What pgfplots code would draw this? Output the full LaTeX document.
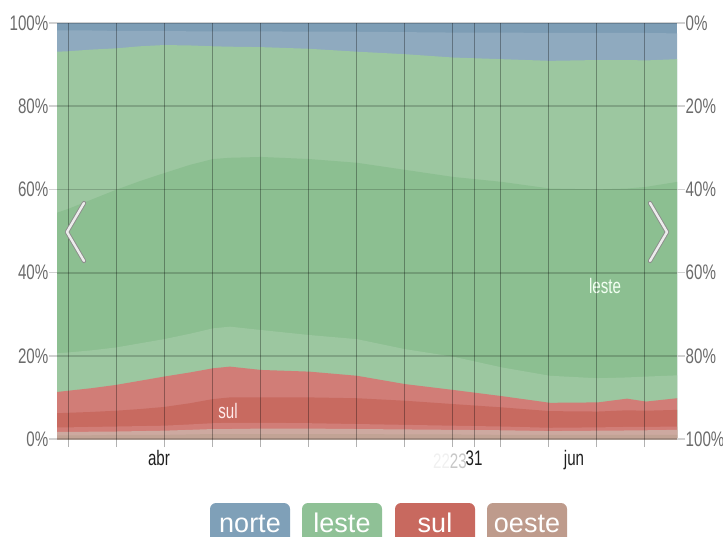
\documentclass[border=0pt]{standalone}
\usepackage{fontspec}
\setmainfont{Liberation Sans}[FakeStretch=0.72]
\newfontfamily\legfont{Liberation Sans}
\usepackage{pgfplots}
\pgfplotsset{compat=1.18}
\usepackage{pgfplotstable}

\definecolor{norteDark}{HTML}{7D9DB5}
\definecolor{norteLight}{HTML}{8FAABF}
\definecolor{lesteLight}{HTML}{9CC7A0}
\definecolor{lesteDark}{HTML}{8CBF91}
\definecolor{sulLight}{HTML}{D17D77}
\definecolor{sulDark}{HTML}{C86A60}
\definecolor{oesteLight}{HTML}{CDA9A0}
\definecolor{oesteDark}{HTML}{C2A395}
\definecolor{norteC}{HTML}{7FA0B8}
\definecolor{lesteC}{HTML}{8FC196}
\definecolor{sulC}{HTML}{C8695F}
\definecolor{oesteC}{HTML}{BE9B8C}

% cumulative band boundaries (percent)
\pgfplotstableread{
x   b1   b2    b3   b4    b5    b6    b7    b8    b9
57  0.9  1.7   2.8  6.2   11.3  20.6  54.4  93.1  98.2
68  0.9  1.7   2.8  6.3   11.6  20.8  55.3  93.2  98.2
91  0.9  1.75  2.9  6.5   12.2  21.3  57.5  93.6  98.2
116 1.0  1.8   3.0  6.8   13.0  22.0  59.9  93.9  98.1
140 1.0  1.9   3.1  7.2   14.0  23.0  62.0  94.4  98.1
164 1.0  2.0   3.2  7.7   15.0  24.0  63.9  94.7  98.1
190 1.1  2.2   3.5  8.6   16.0  25.3  65.9  94.6  98.0
213 1.2  2.4   3.8  9.6   17.0  26.6  67.3  94.4  98.0
230 1.2  2.4   3.9  10.0  17.4  27.0  67.6  94.3  98.0
261 1.2  2.5   3.9  10.0  16.6  26.2  67.8  94.2  98.0
309 1.2  2.5   3.8  10.0  16.2  25.0  67.3  93.8  97.9
357 1.2  2.4   3.6  9.8   15.2  24.0  66.4  93.1  97.9
405 1.1  2.3   3.4  9.2   13.2  21.6  64.7  92.5  97.8
453 1.1  2.2   3.2  8.4   11.8  19.8  63.0  91.7  97.7
502 1.0  2.1   3.0  7.6   10.3  17.2  61.8  91.3  97.7
550 1.0  1.9   2.7  6.7   8.7   15.2  60.2  90.9  97.6
598 1.0  2.0   2.8  6.6   8.8   14.6  60.0  91.1  97.6
627 1.0  2.05  2.9  6.9   9.7   14.8  60.2  91.1  97.6
646 1.0  2.1   2.9  6.8   9.0   15.0  60.6  91.0  97.6
677 1.0  2.2   3.0  7.0   9.8   15.3  61.8  91.3  97.5
}\bands

\begin{document}
\begin{tikzpicture}
\begin{axis}[
  at={(57bp,-439bp)}, anchor=south west,
  width=620bp, height=416bp, scale only axis,
  xmin=57, xmax=677, ymin=0, ymax=100,
  axis on top,
  axis line style={draw=none},
  xtick={68,116,164,212,260,308,356,404,452,474,500,548,596,644},
  xticklabels={},
  ytick={0,20,...,100},
  yticklabel={\pgfmathprintnumber{\tick}\%},
  tick align=outside,
  major tick length=8bp,
  xtick pos=bottom, ytick pos=left,
  x tick style={black, opacity=0.3, line width=0.9bp},
  y tick style={black!18, line width=1.6bp},
  grid=major,
  major x grid style={black, opacity=0.32, line width=0.9bp},
  major y grid style={black, opacity=0.18, line width=1.8bp},
  ticklabel style={font=\fontsize{21bp}{24bp}\selectfont},
  yticklabel style={text=black!58, inner sep=0.5bp},
  extra x ticks={159,474,574},
  extra x tick labels={abr,31,jun},
  extra x tick style={grid=none, major tick length=0pt, tick style={draw=none},
    xticklabel style={text=black!88, yshift=-8bp}},
  /pgf/number format/assume math mode=true,
]
\addplot[fill=norteDark, draw=none] coordinates {(57,100) (677,100)} \closedcycle;
\addplot[fill=norteLight, draw=none] table[x=x,y=b9]{\bands} \closedcycle;
\addplot[fill=lesteLight, draw=none] table[x=x,y=b8]{\bands} \closedcycle;
\addplot[fill=lesteDark, draw=none] table[x=x,y=b7]{\bands} \closedcycle;
\addplot[fill=lesteLight, draw=none] table[x=x,y=b6]{\bands} \closedcycle;
\addplot[fill=sulLight, draw=none] table[x=x,y=b5]{\bands} \closedcycle;
\addplot[fill=sulDark, draw=none] table[x=x,y=b4]{\bands} \closedcycle;
\addplot[fill=sulLight, draw=none] table[x=x,y=b3]{\bands} \closedcycle;
\addplot[fill=oesteLight, draw=none] table[x=x,y=b2]{\bands} \closedcycle;
\addplot[fill=oesteDark, draw=none] table[x=x,y=b1]{\bands} \closedcycle;
\node[text=white!92!red, font=\fontsize{21bp}{24bp}\selectfont] at (axis cs:228,6.8) {sul};
\node[text=white!95!green, font=\fontsize{21bp}{24bp}\selectfont] at (axis cs:605,36.8) {leste};
\end{axis}
\begin{axis}[
  at={(57bp,-439bp)}, anchor=south west,
  width=620bp, height=416bp, scale only axis,
  xmin=57, xmax=677, ymin=0, ymax=100,
  y dir=reverse,
  hide x axis,
  axis y line*=right,
  axis line style={draw=none},
  ytick={0,20,...,100},
  yticklabel={\pgfmathprintnumber{\tick}\%},
  tick align=outside,
  major tick length=8bp,
  y tick style={black!18, line width=1.6bp},
  ticklabel style={font=\fontsize{21bp}{24bp}\selectfont},
  yticklabel style={text=black!58, inner sep=0.5bp},
  /pgf/number format/assume math mode=true,
]
\end{axis}
\begin{scope}[x=1bp,y=-1bp]
  % navigation chevrons
  \foreach \a/\b in {84/67, 650/667}{
    \draw[line width=4.2bp, black!45, line cap=round, line join=round] (\a,203)--(\b,232)--(\a,261);
    \draw[line width=2.4bp, white!85!gray, line cap=round, line join=round] (\a,203)--(\b,232)--(\a,261);
  }
  % ghost tick text
  \node[anchor=base east, inner sep=0pt, font=\fontsize{21bp}{24bp}\selectfont] at (467,468)
    {\textcolor{black!6}{22}\textcolor{black!22}{23}};
  % legend buttons
  \foreach \c/\t/\l/\r in {norteC/norte/210/290, lesteC/leste/302/382, sulC/sul/395/475, oesteC/oeste/487/567}{
    \fill[\c, rounded corners=6bp] (\l,503) rectangle (\r,552);
    \node[anchor=base, inner sep=0pt, text=white, font=\legfont\fontsize{27bp}{30bp}\selectfont] at ({(\l+\r)/2},532) {\t};
  }
  \pgfresetboundingbox
  \useasboundingbox (0,0) rectangle (723,537);
\end{scope}
\end{tikzpicture}
\end{document}
